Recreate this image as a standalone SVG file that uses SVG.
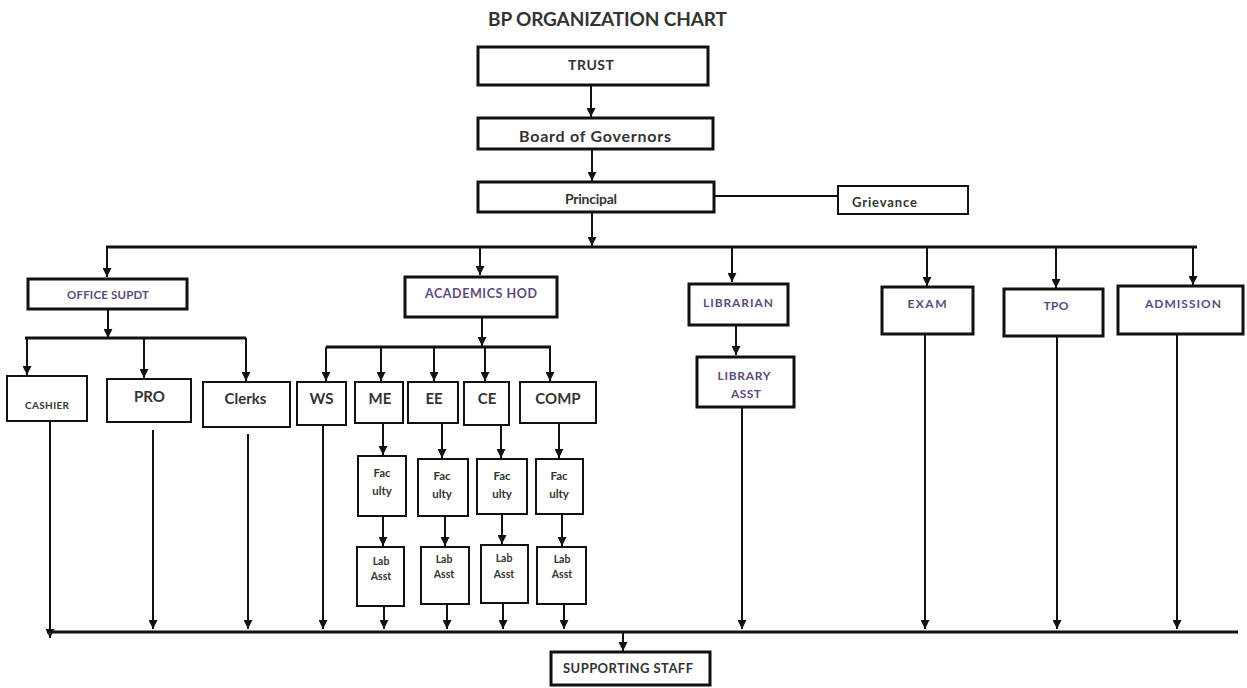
<svg xmlns="http://www.w3.org/2000/svg" width="1247" height="688" viewBox="0 0 1247 688">
<defs>
<marker id="ah" viewBox="0 0 10 10" refX="10" refY="5" markerWidth="9" markerHeight="9" markerUnits="userSpaceOnUse" orient="auto">
<path d="M0,0 L10,5 L0,10 z" fill="#111"/>
</marker>
<style>
.thick{fill:#fff;stroke:#111;stroke-width:3}
.thin{fill:#fff;stroke:#111;stroke-width:2}
.t{font-family:Lato,"Liberation Sans",sans-serif;font-weight:bold;fill:#333;text-anchor:middle}
.p{fill:#5e4a7e}
.c line{stroke:#111;stroke-width:2}
.c line.a{marker-end:url(#ah)}
.c line.bus{stroke-width:3}
</style>
</defs>
<rect width="1247" height="688" fill="#fff"/>
<text class="t" x="607.5" y="26" font-size="19" textLength="239">BP ORGANIZATION CHART</text>

<g id="connectors" class="c">
<line class="a" x1="591" y1="86" x2="591" y2="117"/>
<line class="a" x1="592" y1="150" x2="592" y2="181"/>
<line class="a" x1="592" y1="213" x2="592" y2="246"/>
<line x1="714" y1="196" x2="838" y2="196"/>
<line class="bus" x1="106" y1="247" x2="1197" y2="247"/>
<line class="a" x1="107" y1="247" x2="107" y2="277"/>
<line class="a" x1="480" y1="247" x2="480" y2="275"/>
<line class="a" x1="732" y1="247" x2="732" y2="282"/>
<line class="a" x1="927" y1="247" x2="927" y2="286"/>
<line class="a" x1="1056" y1="247" x2="1056" y2="288"/>
<line class="a" x1="1193" y1="247" x2="1193" y2="285"/>
<line class="a" x1="108" y1="310" x2="108" y2="338"/>
<line class="bus" x1="25" y1="338" x2="246" y2="338"/>
<line class="a" x1="27" y1="338" x2="27" y2="375"/>
<line class="a" x1="144" y1="338" x2="144" y2="378"/>
<line class="a" x1="246" y1="338" x2="246" y2="381"/>
<line class="a" x1="482" y1="318" x2="482" y2="346"/>
<line class="bus" x1="326" y1="347" x2="551" y2="347"/>
<line class="a" x1="326" y1="347" x2="326" y2="381"/>
<line class="a" x1="381" y1="347" x2="381" y2="381"/>
<line class="a" x1="434" y1="347" x2="434" y2="381"/>
<line class="a" x1="485" y1="347" x2="485" y2="381"/>
<line class="a" x1="550" y1="347" x2="550" y2="381"/>
<line class="a" x1="383" y1="423" x2="383" y2="455"/>
<line class="a" x1="442" y1="423" x2="442" y2="458"/>
<line class="a" x1="501" y1="425" x2="501" y2="458"/>
<line class="a" x1="559" y1="423" x2="559" y2="458"/>
<line class="a" x1="383" y1="516" x2="383" y2="546"/>
<line class="a" x1="445" y1="516" x2="445" y2="546"/>
<line class="a" x1="502" y1="514" x2="502" y2="544"/>
<line class="a" x1="562" y1="514" x2="562" y2="546"/>
<line class="a" x1="384" y1="606" x2="384" y2="629"/>
<line class="a" x1="447" y1="604" x2="447" y2="629"/>
<line class="a" x1="503" y1="603" x2="503" y2="629"/>
<line class="a" x1="564" y1="604" x2="564" y2="629"/>
<line class="a" x1="50" y1="421" x2="50" y2="638"/>
<line class="a" x1="153" y1="430" x2="153" y2="629"/>
<line class="a" x1="248" y1="434" x2="248" y2="629"/>
<line class="a" x1="323" y1="425" x2="323" y2="629"/>
<line class="a" x1="736" y1="325" x2="736" y2="355"/>
<line class="a" x1="742" y1="407" x2="742" y2="629"/>
<line class="a" x1="925" y1="334" x2="925" y2="629"/>
<line class="a" x1="1057" y1="336" x2="1057" y2="629"/>
<line class="a" x1="1177" y1="334" x2="1177" y2="629"/>
<line class="bus" x1="47" y1="632" x2="1238" y2="632"/>
<line class="a" x1="623" y1="632" x2="623" y2="651"/>
</g>

<g id="trust"><rect class="thick" x="478" y="47" width="230" height="38"/><text class="t" x="591" y="70" font-size="14" textLength="46">TRUST</text></g>
<g id="board"><rect class="thick" x="478" y="118" width="235" height="31"/><text class="t" x="595" y="142" font-size="16" textLength="152">Board of Governors</text></g>
<g id="principal"><rect class="thick" x="478" y="182" width="236" height="30"/><text class="t" x="591" y="204" font-size="14" textLength="52">Principal</text></g>
<g id="grievance"><rect class="thin" x="838" y="186" width="130" height="28" stroke-width="2.5"/><text class="t" x="884.5" y="207" font-size="13" textLength="65">Grievance</text></g>

<g id="office-supdt"><rect class="thick" x="28" y="279" width="159" height="30"/><text class="t p" x="108" y="299" font-size="11.5" textLength="82">OFFICE SUPDT</text></g>
<g id="cashier"><rect class="thin" x="7" y="376" width="80" height="45"/><text class="t" x="47" y="409" font-size="10" textLength="44">CASHIER</text></g>
<g id="pro"><rect class="thin" x="107" y="379" width="84" height="43"/><text class="t" x="149.5" y="402" font-size="15">PRO</text></g>
<g id="clerks"><rect class="thin" x="203" y="382" width="87" height="45"/><text class="t" x="245.5" y="404" font-size="15">Clerks</text></g>

<g id="academics-hod"><rect class="thick" x="405" y="277" width="152" height="40"/><text class="t p" x="481" y="298" font-size="12.5" textLength="112">ACADEMICS HOD</text></g>
<g id="ws"><rect class="thin" x="297" y="382" width="49" height="43"/><text class="t" x="321.5" y="404" font-size="15">WS</text></g>
<g id="me"><rect class="thin" x="355" y="382" width="48" height="41"/><text class="t" x="380" y="404" font-size="15">ME</text></g>
<g id="ee"><rect class="thin" x="408" y="382" width="50" height="41"/><text class="t" x="434" y="404" font-size="15">EE</text></g>
<g id="ce"><rect class="thin" x="464" y="382" width="45" height="43"/><text class="t" x="487" y="404" font-size="15">CE</text></g>
<g id="comp"><rect class="thin" x="520" y="382" width="76" height="41"/><text class="t" x="558" y="404" font-size="15">COMP</text></g>

<g id="faculty-me"><rect class="thin" x="358" y="456" width="48" height="60"/><text class="t" x="382" y="477" font-size="11.5">Fac</text><text class="t" x="382" y="495" font-size="11.5">ulty</text></g>
<g id="faculty-ee"><rect class="thin" x="418" y="459" width="50" height="57"/><text class="t" x="442" y="480" font-size="11.5">Fac</text><text class="t" x="442" y="498" font-size="11.5">ulty</text></g>
<g id="faculty-ce"><rect class="thin" x="477" y="459" width="50" height="55"/><text class="t" x="502" y="480" font-size="11.5">Fac</text><text class="t" x="502" y="498" font-size="11.5">ulty</text></g>
<g id="faculty-comp"><rect class="thin" x="536" y="459" width="47" height="55"/><text class="t" x="559" y="480" font-size="11.5">Fac</text><text class="t" x="559" y="498" font-size="11.5">ulty</text></g>

<g id="lab-me"><rect class="thin" x="357" y="547" width="47" height="59"/><text class="t" x="381" y="565" font-size="10.5">Lab</text><text class="t" x="381" y="580" font-size="10.5">Asst</text></g>
<g id="lab-ee"><rect class="thin" x="421" y="547" width="48" height="57"/><text class="t" x="444" y="563" font-size="10.5">Lab</text><text class="t" x="444" y="578" font-size="10.5">Asst</text></g>
<g id="lab-ce"><rect class="thin" x="481" y="545" width="47" height="58"/><text class="t" x="504" y="562" font-size="10.5">Lab</text><text class="t" x="504" y="578" font-size="10.5">Asst</text></g>
<g id="lab-comp"><rect class="thin" x="537" y="547" width="49" height="57"/><text class="t" x="562" y="563" font-size="10.5">Lab</text><text class="t" x="562" y="578" font-size="10.5">Asst</text></g>

<g id="librarian"><rect class="thick" x="689" y="284" width="99" height="41"/><text class="t p" x="738" y="307" font-size="12" textLength="70">LIBRARIAN</text></g>
<g id="library-asst"><rect class="thick" x="697" y="357" width="97" height="50"/><text class="t p" x="744" y="380" font-size="12" textLength="53">LIBRARY</text><text class="t p" x="746" y="398" font-size="12" textLength="30">ASST</text></g>
<g id="exam"><rect class="thick" x="882" y="287" width="91" height="47"/><text class="t p" x="927" y="308" font-size="12" textLength="39">EXAM</text></g>
<g id="tpo"><rect class="thick" x="1004" y="289" width="99" height="47"/><text class="t p" x="1056" y="310" font-size="12" textLength="25">TPO</text></g>
<g id="admission"><rect class="thick" x="1118" y="286" width="125" height="48"/><text class="t p" x="1183" y="308" font-size="12" textLength="76">ADMISSION</text></g>

<g id="supporting-staff"><rect class="thick" x="551" y="652" width="159" height="33"/><text class="t" x="628" y="673" font-size="13" textLength="130">SUPPORTING STAFF</text></g>
</svg>
